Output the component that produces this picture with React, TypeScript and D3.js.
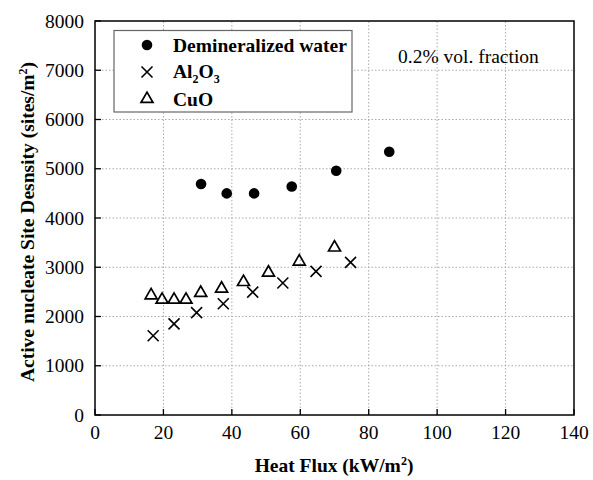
import React from "react";
import * as d3 from "d3";

const waterX = [31, 38.5, 46.5, 57.5, 70.5, 86];
const waterY = [4690, 4500, 4500, 4640, 4960, 5345];
const al2o3X = [17.0, 23.1, 29.7, 37.5, 46.1, 54.9, 64.6, 74.7];
const al2o3Y = [1610, 1850, 2080, 2260, 2495, 2680, 2915, 3100];
const cuoX = [16.4, 19.6, 23.1, 26.6, 30.9, 37.0, 43.4, 50.7, 59.7, 70.0];
const cuoY = [2430, 2340, 2340, 2340, 2480, 2565, 2700, 2890, 3115, 3400];
const xTicks = [0, 20, 40, 60, 80, 100, 120, 140];
const yTicks = [0, 1000, 2000, 3000, 4000, 5000, 6000, 7000, 8000];

const FONT = "'Liberation Serif', 'Times New Roman', serif";
const FS = 19.5;

export default function App() {
  const W = 593, H = 480;
  const x = d3.scaleLinear().domain([0, 140]).range([95, 574]);
  const y = d3.scaleLinear().domain([0, 8000]).range([415, 21]);
  const tri = d3.symbol().type(d3.symbolTriangle).size(62)();
  const crossPath = (cx: number, cy: number, r: number) =>
    `M${cx - r},${cy - r}L${cx + r},${cy + r}M${cx - r},${cy + r}L${cx + r},${cy - r}`;

  return (
    <svg width={W} height={H} style={{ position: "absolute", left: 0, top: 0, background: "#fff" }} fontFamily={FONT}>
      {/* grid */}
      {xTicks.slice(1, -1).map((t) => (
        <line key={"gx" + t} x1={x(t)} x2={x(t)} y1={y(0)} y2={y(8000)} stroke="#aaa" strokeWidth={1} strokeDasharray="1.5,2" />
      ))}
      {yTicks.slice(1, -1).map((t) => (
        <line key={"gy" + t} x1={x(0)} x2={x(140)} y1={y(t)} y2={y(t)} stroke="#aaa" strokeWidth={1} strokeDasharray="1.5,2" />
      ))}
      {/* ticks */}
      {xTicks.map((t) => (
        <line key={"tx" + t} x1={x(t)} x2={x(t)} y1={y(0)} y2={y(0) - 6} stroke="#000" strokeWidth={1.3} />
      ))}
      {yTicks.map((t) => (
        <line key={"ty" + t} x1={x(0)} x2={x(0) + 6} y1={y(t)} y2={y(t)} stroke="#000" strokeWidth={1.3} />
      ))}
      {/* frame */}
      <rect x={x(0)} y={y(8000)} width={x(140) - x(0)} height={y(0) - y(8000)} fill="none" stroke="#000" strokeWidth={1.5} />
      {/* tick labels */}
      {xTicks.map((t) => (
        <text key={"lx" + t} x={x(t)} y={439} textAnchor="middle" fontSize={FS}>{t}</text>
      ))}
      {yTicks.map((t) => (
        <text key={"ly" + t} x={84} y={y(t) + 6.5} textAnchor="end" fontSize={FS}>{t}</text>
      ))}
      {/* axis titles */}
      <text x={334} y={472} textAnchor="middle" fontSize={FS} fontWeight="bold">
        Heat Flux (kW/m<tspan dy={-7} fontSize={12}>2</tspan><tspan dy={7}>)</tspan>
      </text>
      <text transform="translate(34,222) rotate(-90)" textAnchor="middle" fontSize={FS} fontWeight="bold">
        Active nucleate Site Desnsity (sites/m<tspan dy={-7} fontSize={12}>2</tspan><tspan dy={7}>)</tspan>
      </text>
      {/* annotation */}
      <text x={398} y={63} fontSize={FS}>0.2% vol. fraction</text>
      {/* data */}
      {waterX.map((v, i) => (
        <circle key={"w" + i} cx={x(v)} cy={y(waterY[i])} r={5.3} fill="#000" />
      ))}
      {al2o3X.map((v, i) => (
        <path key={"a" + i} d={crossPath(x(v), y(al2o3Y[i]), 5.5)} stroke="#000" strokeWidth={1.6} fill="none" />
      ))}
      {cuoX.map((v, i) => (
        <path key={"c" + i} d={tri!} transform={`translate(${x(v)},${y(cuoY[i])})`} stroke="#000" strokeWidth={1.7} fill="none" />
      ))}
      {/* legend */}
      <rect x={114} y={30.5} width={238} height={81.5} fill="#fff" stroke="#666" strokeWidth={1.2} />
      <circle cx={147} cy={45} r={5.3} fill="#000" />
      <path d={crossPath(147, 72, 5.5)} stroke="#000" strokeWidth={1.6} fill="none" />
      <path d={tri!} transform="translate(147,99)" stroke="#000" strokeWidth={1.7} fill="none" />
      <text x={173} y={51.5} fontSize={FS} fontWeight="bold">Demineralized water</text>
      <text x={173} y={77.5} fontSize={FS} fontWeight="bold">
        Al<tspan dy={5} fontSize={12}>2</tspan><tspan dy={-5}>O</tspan><tspan dy={5} fontSize={12}>3</tspan>
      </text>
      <text x={173} y={105.5} fontSize={FS} fontWeight="bold">CuO</text>
    </svg>
  );
}
